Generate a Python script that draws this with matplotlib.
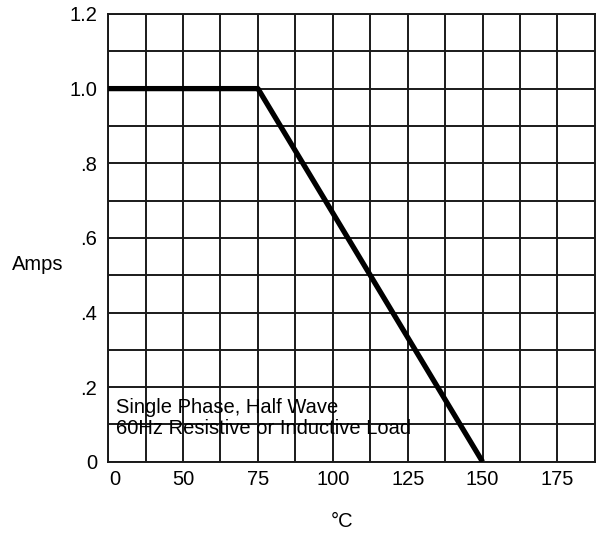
import numpy as np
import matplotlib
matplotlib.use("Agg")
import matplotlib.pyplot as plt
from matplotlib.transforms import ScaledTranslation

plt.rcParams['font.family'] = ['Liberation Sans', 'DejaVu Sans']

# derating curve: ambient temperature (deg C) vs forward current (A)
temp = [25, 75, 150]
amps = [1.0, 1.0, 0.0]

xtick_pos = [25, 50, 75, 100, 125, 150, 175]
xtick_lab = ['0', '50', '75', '100', '125', '150', '175']
ytick_pos = [0, 0.2, 0.4, 0.6, 0.8, 1.0, 1.2]
ytick_lab = ['0', '.2', '.4', '.6', '.8', '1.0', '1.2']

fig = plt.figure(figsize=(6.04, 5.37), dpi=100)
ax = fig.add_axes([0.179, 0.140, 0.806, 0.834])

ax.set_xlim(25, 187.5)
ax.set_ylim(0, 1.2)

# grid every 12.5 deg and 0.1 A
for x in np.arange(25, 187.6, 12.5):
    ax.axvline(x, color='#1a1a1a', lw=1.4, zorder=1)
for y in np.arange(0, 1.21, 0.1):
    ax.axhline(y, color='#1a1a1a', lw=1.4, zorder=1)

ax.plot(temp, amps, color='black', lw=3.8, solid_capstyle='butt', zorder=3)

ax.set_xticks(xtick_pos)
ax.set_xticklabels(xtick_lab, fontsize=14.5)
ax.set_yticks(ytick_pos)
ax.set_yticklabels(ytick_lab, fontsize=14.5)
ax.tick_params(length=0, pad=6)
ax.tick_params(axis='y', pad=8)
for s in ax.spines.values():
    s.set_linewidth(1.4)
    s.set_color('#1a1a1a')

# first x label sits a bit right of the axis in the original
lab0 = ax.get_xticklabels()[0]
lab0.set_transform(lab0.get_transform() + ScaledTranslation(0.07, 0, fig.dpi_scale_trans))

ax.text(27.5, 0.145, 'Single Phase, Half Wave', fontsize=14.5, va='center', zorder=4)
ax.text(27.5, 0.090, '60Hz Resistive or Inductive Load', fontsize=14.5, va='center', zorder=4)

fig.text(0.063, 0.507, 'Amps', fontsize=14.5, ha='center', va='center')
fig.text(0.567, 0.028, '°C', fontsize=14.5, ha='center', va='center')

fig.savefig('out.png', dpi=100)
